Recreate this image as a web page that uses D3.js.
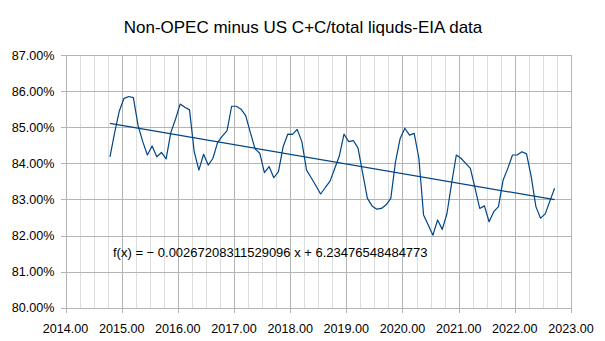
<!DOCTYPE html>
<html>
<head>
<meta charset="utf-8">
<script src="https://cdn.jsdelivr.net/npm/d3@7"></script>
<style>
  body { margin: 0; background: #fff; }
  text { font-family: "Liberation Sans", Arial, sans-serif; fill: #000; }
</style>
</head>
<body>
<div id="chart"></div>
<script>
var title = "Non-OPEC minus US C+C/total liquds-EIA data";

// monthly share, Oct 2014 - Sep 2022, in percent
var months = d3.timeMonth.range(new Date(2014, 9, 1), new Date(2022, 9, 1));
var share = [
    84.18, 84.85, 85.45, 85.80, 85.85, 85.82, 85.05, 84.60, 84.23, 84.48, 84.18, 84.30,
    84.12, 84.85, 85.22, 85.64, 85.55, 85.48, 84.32, 83.81, 84.25, 83.95, 84.14, 84.58,
    84.75, 84.90, 85.58, 85.58, 85.50, 85.32, 84.85, 84.40, 84.28, 83.74, 83.91, 83.60,
    83.77, 84.46, 84.81, 84.80, 84.94, 84.60, 83.81, 83.60, 83.38, 83.15, 83.33, 83.50,
    83.85, 84.20, 84.81, 84.60, 84.63, 84.42, 83.72, 83.03, 82.82, 82.73, 82.75, 82.85,
    83.03, 84.04, 84.69, 84.97, 84.78, 84.83, 84.14, 82.57, 82.29, 82.01, 82.43, 82.17,
    82.61, 83.45, 84.23, 84.14, 84.00, 83.86, 83.31, 82.75, 82.82, 82.38, 82.66, 82.80,
    83.54, 83.86, 84.23, 84.23, 84.32, 84.26, 83.63, 82.80, 82.48, 82.60, 82.96, 83.31
];

// linear trend fitted on the fraction values
var trendSlope = -0.00267208311529096;
var trendIntercept = 6.23476548484773;
var trendLabel = "f(x) = \u2212 0.00267208311529096 x + 6.23476548484773";

var xTicks = d3.range(2014, 2024, 1);
var xMinorTicks = d3.range(2014, 2023.01, 0.25);
var yTicks = [0.80, 0.81, 0.82, 0.83, 0.84, 0.85, 0.86, 0.87];

function TrendChart(divId) {
    var self = this;
    self.margin = { top: 55, right: 34, bottom: 33.3, left: 65.5 };
    self.width = 605;
    self.height = 341;
    self.svg = d3.select(divId).append("svg")
        .attr("width", self.width)
        .attr("height", self.height);
    self.init();
}

TrendChart.prototype.init = function () {
    var self = this;
    var m = self.margin;

    self.xScale = d3.scaleLinear().domain([2014, 2023])
        .range([m.left, self.width - m.right]);
    self.yScale = d3.scaleLinear().domain([0.80, 0.87])
        .range([self.height - m.bottom, m.top]);

    var x = self.xScale, y = self.yScale;

    self.svg.append("text")
        .attr("x", 303)
        .attr("y", 33)
        .attr("text-anchor", "middle")
        .style("font-size", "17px")
        .text(title);

    // grid: quarter-year minor lines, then year and percent lines
    var grid = self.svg.append("g").attr("shape-rendering", "crispEdges");
    grid.selectAll(".minor").data(xMinorTicks.filter(function (d) { return d % 1 !== 0; }))
        .enter().append("line")
        .attr("x1", function (d) { return Math.round(x(d)) + 0.5; })
        .attr("x2", function (d) { return Math.round(x(d)) + 0.5; })
        .attr("y1", y(0.87)).attr("y2", y(0.80))
        .attr("stroke", "#dddddd");
    grid.selectAll(".vmajor").data(xTicks)
        .enter().append("line")
        .attr("x1", function (d) { return Math.round(x(d)) + 0.5; })
        .attr("x2", function (d) { return Math.round(x(d)) + 0.5; })
        .attr("y1", y(0.87)).attr("y2", y(0.80) + 5)
        .attr("stroke", "#b3b3b3");
    grid.selectAll(".hmajor").data(yTicks)
        .enter().append("line")
        .attr("x1", x(2014) - 5).attr("x2", x(2023))
        .attr("y1", function (d) { return Math.round(y(d)) + 0.5; })
        .attr("y2", function (d) { return Math.round(y(d)) + 0.5; })
        .attr("stroke", "#b3b3b3");

    var pct = d3.format(".2%");
    self.svg.selectAll(".ylabel").data(yTicks)
        .enter().append("text")
        .attr("x", x(2014) - 11)
        .attr("y", function (d) { return y(d); })
        .attr("dy", "0.36em")
        .attr("text-anchor", "end")
        .style("font-size", "12.6px")
        .text(function (d) { return pct(d); });

    self.svg.selectAll(".xlabel").data(xTicks)
        .enter().append("text")
        .attr("x", function (d) { return x(d); })
        .attr("y", 333)
        .attr("text-anchor", "middle")
        .style("font-size", "12.6px")
        .text(function (d) { return d3.format(".2f")(d); });
};

TrendChart.prototype.update = function () {
    var self = this;
    var x = self.xScale, y = self.yScale;

    var points = months.map(function (d, i) {
        return { year: d.getFullYear() + (d.getMonth() + 0.5) / 12, value: share[i] / 100 };
    });

    var line = d3.line()
        .x(function (d) { return x(d.year); })
        .y(function (d) { return y(d.value); });

    self.svg.append("path")
        .datum(points)
        .attr("d", line)
        .attr("fill", "none")
        .attr("stroke", "#004586")
        .attr("stroke-width", 1.2)
        .attr("stroke-linejoin", "round");

    var first = points[0].year, last = points[points.length - 1].year;
    var trend = [first, last].map(function (t) {
        return { year: t, value: trendSlope * t + trendIntercept };
    });
    self.svg.append("path")
        .datum(trend)
        .attr("d", line)
        .attr("fill", "none")
        .attr("stroke", "#004586")
        .attr("stroke-width", 1.2);

    self.svg.append("text")
        .attr("x", 113)
        .attr("y", 257)
        .style("font-size", "13px")
        .text(trendLabel);
};

var chart = new TrendChart("#chart");
chart.update();
</script>
</body>
</html>
